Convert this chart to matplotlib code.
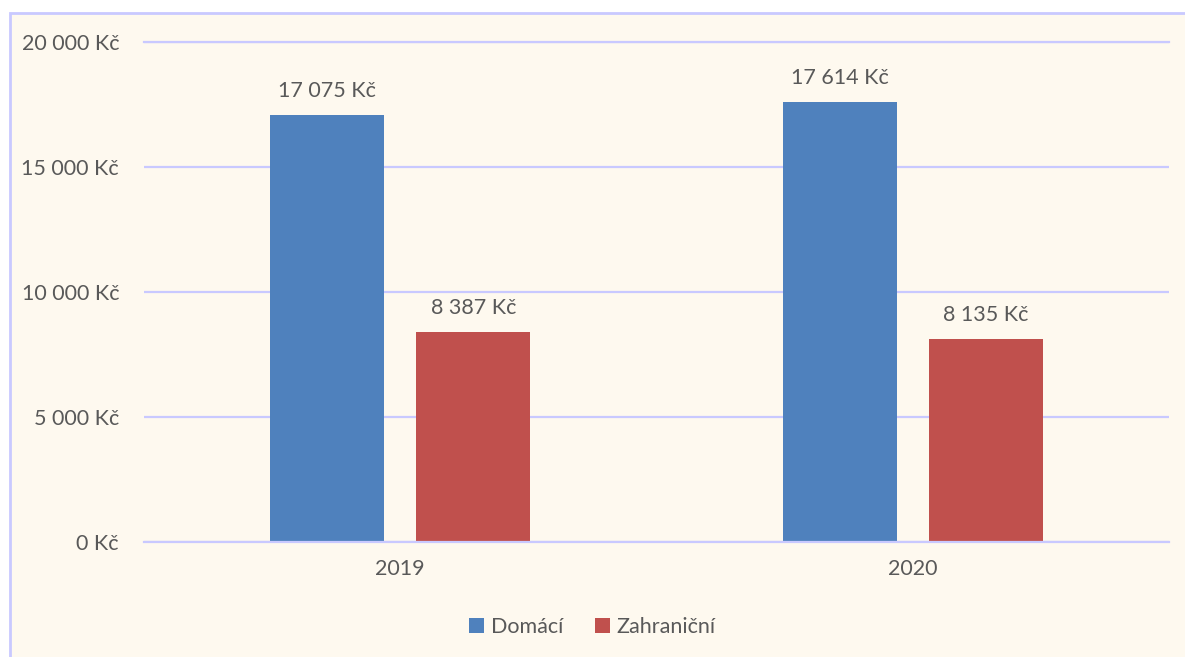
import matplotlib.pyplot as plt
import matplotlib.patches as patches
import numpy as np

# Data
roky = ['2019', '2020']
domaci = [17075, 17614]
zahranicni = [8387, 8135]
serie = ['Domácí', 'Zahraniční']
yticks = [0, 5000, 10000, 15000, 20000]

def kc(v):
    return f'{v:,.0f}'.replace(',', ' ') + ' Kč'

plt.rcParams['font.family'] = ['Lato', 'DejaVu Sans']
text_color = '#595959'
grid_color = '#C9C9FF'
bg = '#FEF9EF'
fs = 15.5

fig = plt.figure(figsize=(11.85, 6.57), dpi=100)
fig.patch.set_facecolor('white')

# Cream chart area with lavender border
rect = patches.Rectangle((10 / 1185, -0.01), 1.02, 1 - 13 / 657 + 0.01,
                         transform=fig.transFigure, facecolor=bg,
                         edgecolor=grid_color, linewidth=2, zorder=-5)
fig.patches.append(rect)

ax = fig.add_axes([144 / 1185, 1 - 542 / 657, (1169 - 144) / 1185, 500 / 657])
ax.set_facecolor('none')
ax.set_zorder(2)

x = np.arange(len(roky))
sirka = 0.2225
posun = 0.1425
b1 = ax.bar(x - posun, domaci, sirka, color='#4F81BD', label=serie[0], zorder=3)
b2 = ax.bar(x + posun, zahranicni, sirka, color='#C0504D', label=serie[1], zorder=3)

for barras in (b1, b2):
    for b in barras:
        ax.annotate(kc(b.get_height()), (b.get_x() + b.get_width() / 2, b.get_height()),
                    xytext=(0, 10), textcoords='offset points', ha='center', va='bottom',
                    fontsize=fs, color=text_color)

ax.set_xlim(-0.5, 1.5)
ax.set_ylim(0, 20000)
ax.set_yticks(yticks)
ax.set_yticklabels([kc(v) for v in yticks], fontsize=fs, color=text_color)
ax.set_xticks(x)
ax.set_xticklabels(roky, fontsize=fs, color=text_color)
ax.tick_params(axis='both', length=0)
ax.tick_params(axis='y', pad=18)
ax.tick_params(axis='x', pad=12)
ax.grid(axis='y', color=grid_color, linewidth=1.6, zorder=1)
ax.axhline(0, color=grid_color, linewidth=1.6, clip_on=False, zorder=4)
ax.axhline(20000, color=grid_color, linewidth=1.6, clip_on=False, zorder=1)
for s in ax.spines.values():
    s.set_visible(False)

leg = fig.legend(handles=[b1, b2], labels=serie, loc='center', bbox_to_anchor=(0.5, 1 - 627 / 657),
                 ncol=2, frameon=False, fontsize=fs, labelcolor=text_color,
                 handlelength=0.7, handleheight=0.7, handletextpad=0.3, columnspacing=1.5)
leg.set_zorder(3)

fig.savefig('out.png', dpi=100, facecolor=fig.get_facecolor())
